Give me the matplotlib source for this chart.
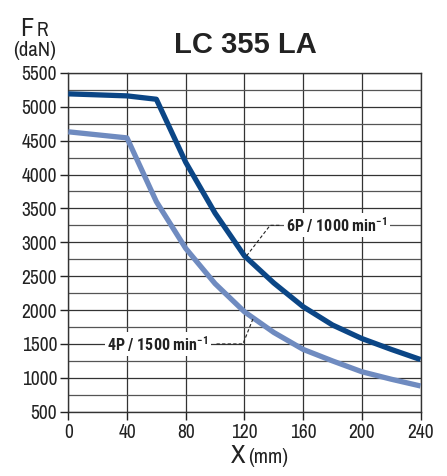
import numpy as np
import matplotlib
matplotlib.use('Agg')
import matplotlib.pyplot as plt

# datos
x_mm = [0, 40, 60, 80, 100, 120, 140, 160, 180, 200, 220, 240]
fr_6p = [5190, 5160, 5110, 4180, 3430, 2800, 2400, 2050, 1780, 1580, 1420, 1270]
x_4p = [0, 40, 60, 80, 100, 120, 140, 160, 180, 200, 220, 240]
fr_4p = [4630, 4540, 3600, 2910, 2390, 1975, 1670, 1420, 1250, 1090, 980, 880]

etiqueta_6p = '6P / 1000 min$^{\\mathbf{-1}}$'
etiqueta_4p = '4P / 1500 min$^{\\mathbf{-1}}$'
x_ticks = [0, 40, 80, 120, 160, 200, 240]
y_ticks = [500, 1000, 1500, 2000, 2500, 3000, 3500, 4000, 4500, 5000, 5500]

fuente = ['Archivo Narrow', 'Liberation Sans', 'DejaVu Sans']
plt.rcParams['font.family'] = fuente
plt.rcParams['mathtext.fontset'] = 'custom'
plt.rcParams['mathtext.bf'] = 'Roboto Condensed:bold'
plt.rcParams['mathtext.rm'] = 'Roboto Condensed'

fig = plt.figure(figsize=(4.47, 4.76), dpi=100)
ax = fig.add_axes([0.1528, 0.135, 0.788, 0.712])

ax.set_xlim(0, 240)
ax.set_ylim(500, 5500)
ax.set_xticks(x_ticks)
ax.set_yticks(y_ticks)
ax.set_yticks(np.arange(750, 5500, 500), minor=True)
ax.tick_params(axis='y', which='minor', length=0)
ax.tick_params(axis='both', which='major', length=6, width=1, color='#222222',
               labelsize=14, labelcolor='#222222', pad=2)
ax.grid(True, which='major', color='#333333', linewidth=0.9)
ax.grid(True, which='minor', axis='y', color='#555555', linewidth=0.9)
for s in ax.spines.values():
    s.set_color('#333333')
    s.set_linewidth(1.0)

ax.plot(x_mm, fr_6p, color='#0b4686', linewidth=3.8, solid_capstyle='butt', zorder=4)
ax.plot(x_4p, fr_4p, color='#6f8bc0', linewidth=3.8, solid_capstyle='butt', zorder=3)

# etiquetas con linea guia discontinua
etiqueta_fuente = ['Roboto Condensed', 'DejaVu Sans']
ax.plot([121.5, 137.5, 144], [2800, 3250, 3250], color='#222222', linewidth=0.8,
        linestyle=(0, (3, 2)), zorder=5)
ax.text(183, 3250, etiqueta_6p, ha='center', va='center', fontsize=11.5, fontweight='bold',
        family=etiqueta_fuente, color='#222222',
        bbox=dict(facecolor='white', edgecolor='none', pad=1.5), zorder=6)
ax.plot([101, 119, 126], [1500, 1500, 1880], color='#222222', linewidth=0.8,
        linestyle=(0, (3, 2)), zorder=5)
ax.text(61, 1500, etiqueta_4p, ha='center', va='center', fontsize=11.5, fontweight='bold',
        family=etiqueta_fuente, color='#222222',
        bbox=dict(facecolor='white', edgecolor='none', pad=1.5), zorder=6)

fig.text(0.548, 0.905, 'LC 355 LA', ha='center', va='center', fontsize=21,
         fontweight='bold', color='#222222', family=['Liberation Sans', 'DejaVu Sans'])
fig.text(0.045, 0.925, 'F', ha='left', va='baseline', fontsize=19, color='#222222')
fig.text(0.081, 0.925, 'R', ha='left', va='baseline', fontsize=14, color='#222222')
fig.text(0.078, 0.893, '(daN)', ha='center', va='center', fontsize=15, color='#222222')
fig.text(0.548, 0.028, 'X', ha='right', va='baseline', fontsize=19, color='#222222')
fig.text(0.556, 0.028, '(mm)', ha='left', va='baseline', fontsize=15, color='#222222')

fig.savefig('out.png', dpi=100)
